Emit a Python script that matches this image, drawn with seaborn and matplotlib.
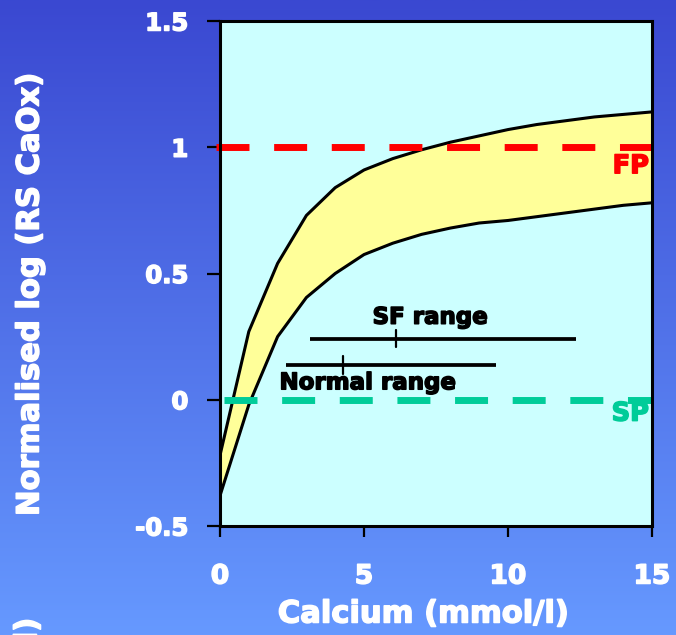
import numpy as np
import pandas as pd
import matplotlib
matplotlib.use("Agg")
import matplotlib.pyplot as plt
import matplotlib.patheffects as pe
import seaborn as sns

# Calcium concentration grid and the bounds of the normalised log(RS CaOx) band
calcium = [0, 1, 2, 3, 4, 5, 6, 7, 8, 9, 10, 11, 12, 13, 14, 15]
upper_bound = [-0.22, 0.27, 0.54, 0.73, 0.84, 0.91, 0.955, 0.99, 1.02, 1.045,
               1.07, 1.09, 1.105, 1.12, 1.13, 1.14]
lower_bound = [-0.38, -0.02, 0.25, 0.405, 0.50, 0.575, 0.62, 0.655, 0.68, 0.70,
               0.71, 0.725, 0.74, 0.755, 0.77, 0.78]

# Reference levels: formation product and solubility product
fp_level = 1.0
sp_level = 0.0

# Calcium ranges: (start, end, median, height)
sf_range = (3.12, 12.37, 6.1, 0.242)
normal_range = (2.28, 9.58, 4.28, 0.1375)

x_ticks = [0, 5, 10, 15]
y_ticks = [-0.5, 0, 0.5, 1, 1.5]
y_tick_labels = ["-0.5", "0", "0.5", "1", "1.5"]

df = pd.DataFrame({
    "calcium": calcium * 2,
    "value": upper_bound + lower_bound,
    "bound": ["upper"] * len(calcium) + ["lower"] * len(calcium),
})

sns.set_style("ticks")
plt.rcParams["font.family"] = ["DejaVu Sans"]
plt.rcParams["font.weight"] = "bold"


def heavy(color):
    # thicken the bold glyphs slightly with an outline of the same colour
    return [pe.withStroke(linewidth=1.1, foreground=color)]


fig = plt.figure(figsize=(6.76, 6.35), dpi=100)

# Vertical blue gradient behind everything
bg = fig.add_axes([0, 0, 1, 1], zorder=-10)
top_col = np.array([58, 72, 209]) / 255
bot_col = np.array([102, 153, 255]) / 255
t = np.linspace(0, 1, 256)[:, None]
grad = (top_col[None, :] * (1 - t) + bot_col[None, :] * t)[:, None, :]
bg.imshow(grad, aspect="auto", extent=[0, 1, 0, 1])
bg.set_axis_off()

ax = fig.add_axes([220 / 676, 1 - 526 / 635, 432 / 676, 505 / 635])
ax.set_facecolor("#ccffff")

ax.fill_between(calcium, lower_bound, upper_bound, color="#ffff99", zorder=1, lw=0)
sns.lineplot(data=df, x="calcium", y="value", units="bound", estimator=None,
             color="black", lw=2.2, ax=ax, zorder=3, legend=False)

# Formation product (red) and solubility product (green) levels
ax.plot([-0.14, 15], [fp_level, fp_level], color="#ff0000", lw=5,
        dashes=(4.75, 3.55), dash_capstyle="butt", clip_on=False, zorder=4)
ax.plot([0.14, 15], [sp_level, sp_level], color="#00cc99", lw=5,
        dashes=(4.75, 3.55), dash_capstyle="butt", clip_on=False, zorder=4)
ax.text(14.9, 0.925, "FP", color="#ff0000", fontsize=18.5, fontweight="bold",
        ha="right", va="center", zorder=5, path_effects=heavy("#ff0000"))
ax.text(14.9, -0.055, "SP", color="#00cc99", fontsize=18.5, fontweight="bold",
        ha="right", va="center", zorder=5, path_effects=heavy("#00cc99"))

# Calcium ranges with median markers
for (x0, x1, med, yv) in (sf_range, normal_range):
    ax.plot([x0, x1], [yv, yv], color="black", lw=2.7, solid_capstyle="butt", zorder=4)
    ax.plot([med, med], [yv - 0.034, yv + 0.034], color="black", lw=1.6, zorder=4)
ax.text(7.29, 0.301, "SF range", fontsize=16.5, fontweight="bold",
        ha="center", va="baseline", color="black", zorder=5, path_effects=heavy("black"))
ax.text(5.12, 0.0415, "Normal range", fontsize=16.5, fontweight="bold",
        ha="center", va="baseline", color="black", zorder=5, path_effects=heavy("black"))

ax.set_xlim(0, 15)
ax.set_ylim(-0.5, 1.5)
ax.set_xticks(x_ticks)
ax.set_xticklabels([str(v) for v in x_ticks])
ax.set_yticks(y_ticks)
ax.set_yticklabels(y_tick_labels)
ax.set_xlabel("")
ax.set_ylabel("")
for s in ax.spines.values():
    s.set_color("black")
    s.set_linewidth(2.2)
    s.set_zorder(6)
ax.tick_params(axis="y", length=9.4, width=1.6, color="black", pad=13.5,
               labelsize=17.5, labelcolor="white")
ax.tick_params(axis="x", length=8, width=1.6, color="black", pad=19,
               labelsize=19, labelcolor="white")
for lab in ax.get_xticklabels() + ax.get_yticklabels():
    lab.set_fontweight("bold")
    lab.set_path_effects(heavy("white"))

fig.text(423 / 676, 1 - 614 / 635, "Calcium (mmol/l)", color="white",
         fontsize=22, fontweight="bold", ha="center", va="center",
         path_effects=heavy("white"))
fig.text(30 / 676, 1 - 295 / 635, "Normalised log (RS CaOx)", color="white",
         fontsize=22, fontweight="bold", ha="center", va="center", rotation=90,
         path_effects=heavy("white"))
fig.text(28 / 676, 1 - 618 / 635, "(mmol/l)", color="white",
         fontsize=22, fontweight="bold", ha="center", va="top", rotation=90,
         path_effects=heavy("white"))

fig.savefig("out.png", dpi=100)
